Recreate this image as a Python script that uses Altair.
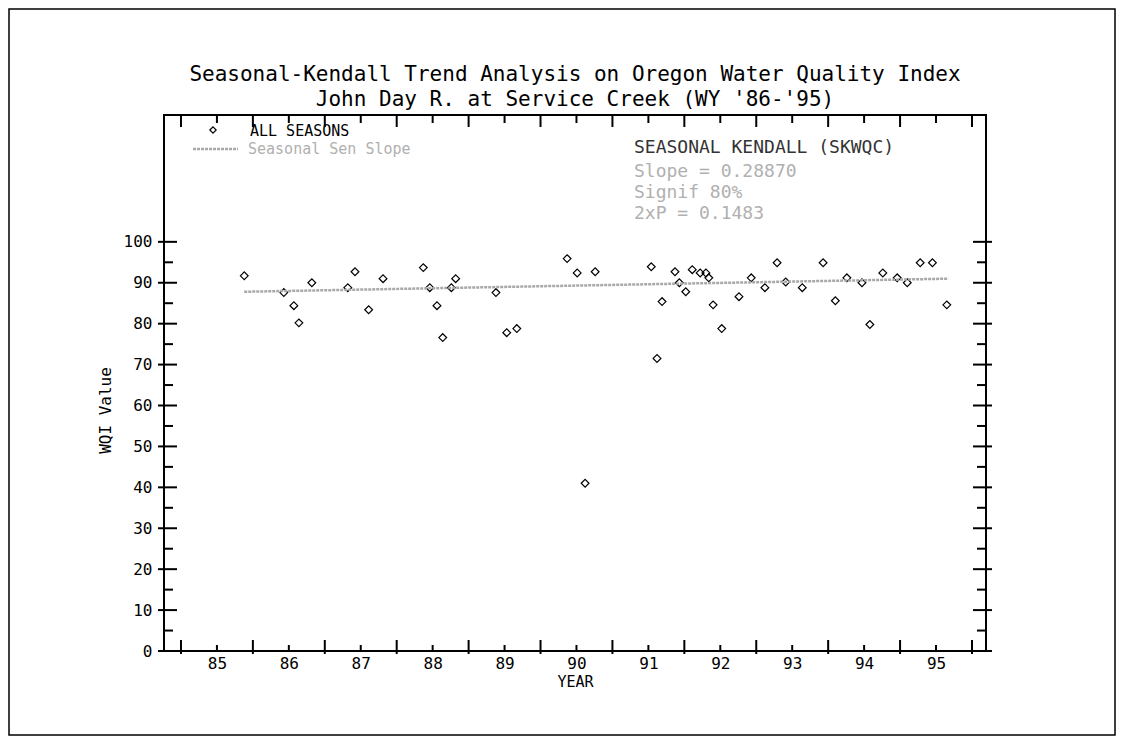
import altair as alt
import pandas as pd

# ---- data ----
years = [85.38, 85.93, 86.07, 86.14, 86.32, 86.82, 86.92, 87.11, 87.31, 87.87,
         87.96, 88.06, 88.14, 88.26, 88.32, 88.88, 89.03, 89.17, 89.87, 90.01,
         90.12, 90.26, 91.04, 91.12, 91.19, 91.37, 91.43, 91.52, 91.61, 91.72,
         91.80, 91.84, 91.90, 92.02, 92.26, 92.43, 92.62, 92.79, 92.91, 93.14,
         93.43, 93.60, 93.76, 93.97, 94.08, 94.26, 94.46, 94.60, 94.78, 94.95,
         95.15]
wqi = [91.7, 87.6, 84.4, 80.2, 90.0, 88.8, 92.7, 83.4, 91.0, 93.7,
       88.8, 84.4, 76.6, 88.8, 91.0, 87.6, 77.8, 78.8, 95.9, 92.4,
       41.0, 92.7, 93.9, 71.5, 85.4, 92.7, 90.0, 87.8, 93.2, 92.4,
       92.4, 91.2, 84.6, 78.8, 86.6, 91.2, 88.8, 94.9, 90.2, 88.8,
       94.9, 85.6, 91.2, 90.0, 79.8, 92.4, 91.2, 90.0, 94.9, 94.9,
       84.6]
sen_x = [85.38, 95.17]
sen_y = [87.8, 91.0]

x_label_ticks = [85, 86, 87, 88, 89, 90, 91, 92, 93, 94, 95]
x_major_ticks = [84.5, 85.5, 86.5, 87.5, 88.5, 89.5, 90.5, 91.5, 92.5, 93.5, 94.5, 95.5]
y_major_ticks = [0, 10, 20, 30, 40, 50, 60, 70, 80, 90, 100]
y_minor_ticks = [5, 15, 25, 35, 45, 55, 65, 75, 85, 95]

title_lines = ["Seasonal-Kendall Trend Analysis on Oregon Water Quality Index",
               "John Day R. at Service Creek  (WY '86-'95)"]
stats_lines = ["SEASONAL KENDALL (SKWQC)", "Slope = 0.28870", "Signif 80%", "2xP = 0.1483"]

# ---- layout ----
W, H = 822, 536
FONT = "DejaVu Sans Mono"
xs = alt.Scale(domain=[84.264, 95.695], nice=False, zero=False)
ys = alt.Scale(domain=[0, 131], nice=False, zero=False)

pts_df = pd.DataFrame({"year": years, "wqi": wqi})
sen_df = pd.DataFrame({"year": sen_x, "wqi": sen_y})
xl_df = pd.DataFrame({"t": x_label_ticks})
xm_df = pd.DataFrame({"t": x_major_ticks})
ym_df = pd.DataFrame({"t": y_major_ticks})
yn_df = pd.DataFrame({"t": y_minor_ticks})
one = pd.DataFrame({"a": [0]})

base_pts = alt.Chart(pts_df).mark_point(
    shape="diamond", filled=False, size=60, color="black", strokeWidth=1.2, opacity=1
).encode(
    x=alt.X("year:Q", scale=xs,
            axis=alt.Axis(values=x_label_ticks, format="d", ticks=False, domain=False, grid=False,
                          labelFont=FONT, labelFontSize=16, labelColor="black",
                          labelPadding=4, title="YEAR", titleFont=FONT,
                          titleFontSize=15, titleFontWeight="normal", titleColor="black",
                          titlePadding=3)),
    y=alt.Y("wqi:Q", scale=ys,
            axis=alt.Axis(values=y_major_ticks, ticks=False, domain=False, grid=False,
                          labelFont=FONT, labelFontSize=16, labelColor="black",
                          labelPadding=12, title="WQI Value", titleFont=FONT,
                          titleFontSize=16, titleFontWeight="normal", titleColor="black",
                          titleX=-59, titleY=295, titleAlign="center",
                          titleBaseline="middle", titleAngle=-90)),
)

sen_line = alt.Chart(sen_df).mark_line(color="#a8a8a8", strokeWidth=2.5, strokeDash=[3, 1]).encode(
    x=alt.X("year:Q", scale=xs), y=alt.Y("wqi:Q", scale=ys)
)

frame = alt.Chart(one).mark_rect(fill=None, stroke="black", strokeWidth=2).encode(
    x=alt.value(0), x2=alt.value(W), y=alt.value(0), y2=alt.value(H))

# outer page border around the whole figure
page_border = alt.Chart(one).mark_rect(fill=None, stroke="black", strokeWidth=1.5).encode(
    x=alt.value(-155), x2=alt.value(W + 129), y=alt.value(-106), y2=alt.value(H + 84))

def xrule(df, y0, y1):
    return alt.Chart(df).mark_rule(color="black", strokeWidth=2).encode(
        x=alt.X("t:Q", scale=xs), y=alt.value(y0), y2=alt.value(y1))

def yrule(df, x0, x1):
    return alt.Chart(df).mark_rule(color="black", strokeWidth=2).encode(
        y=alt.Y("t:Q", scale=ys), x=alt.value(x0), x2=alt.value(x1))

ticks = [
    xrule(xm_df, H - 11, H + 3), xrule(xl_df, H - 6, H),
    xrule(xm_df, 0, 12), xrule(xl_df, 0, 8),
    yrule(ym_df, -6, 13), yrule(yn_df, 0, 9),
    yrule(ym_df, W - 13, W + 6), yrule(yn_df, W - 9, W),
]

def label(txt, x, y, size, color="black", align="left"):
    return alt.Chart(one).mark_text(
        align=align, baseline="middle", font=FONT, fontSize=size, color=color
    ).encode(x=alt.value(x), y=alt.value(y), text=alt.value(txt))

legend_sym = alt.Chart(one).mark_point(
    shape="diamond", filled=False, size=40, color="black", strokeWidth=1.2, opacity=1
).encode(x=alt.value(49), y=alt.value(15))
legend_line = alt.Chart(one).mark_rule(
    color="#a8a8a8", strokeWidth=2.5, strokeDash=[3, 1]
).encode(x=alt.value(29), x2=alt.value(74), y=alt.value(34))

texts = [
    legend_sym, legend_line,
    label(title_lines[0], W / 2, -40, 21, "black", "center"),
    label(title_lines[1], W / 2, -15, 21, "black", "center"),
    label("ALL SEASONS", 86, 16, 15),
    label("Seasonal Sen Slope", 84, 34, 15, "#b0b0b0"),
    label(stats_lines[0], 470, 33, 18, "#333333"),
    label(stats_lines[1], 470, 57, 18, "#b0b0b0"),
    label(stats_lines[2], 470, 78, 18, "#b0b0b0"),
    label(stats_lines[3], 470, 99, 18, "#b0b0b0"),
]

chart = alt.layer(base_pts, sen_line, frame, page_border, *ticks, *texts).properties(
    width=W, height=H,
    autosize=alt.AutoSizeParams(type="none"),
    padding={"left": 156, "top": 107, "right": 131, "bottom": 86},
).configure_view(stroke=None).configure(background="white")

chart.save("out.html", embed_options={"renderer": "svg", "actions": False})
